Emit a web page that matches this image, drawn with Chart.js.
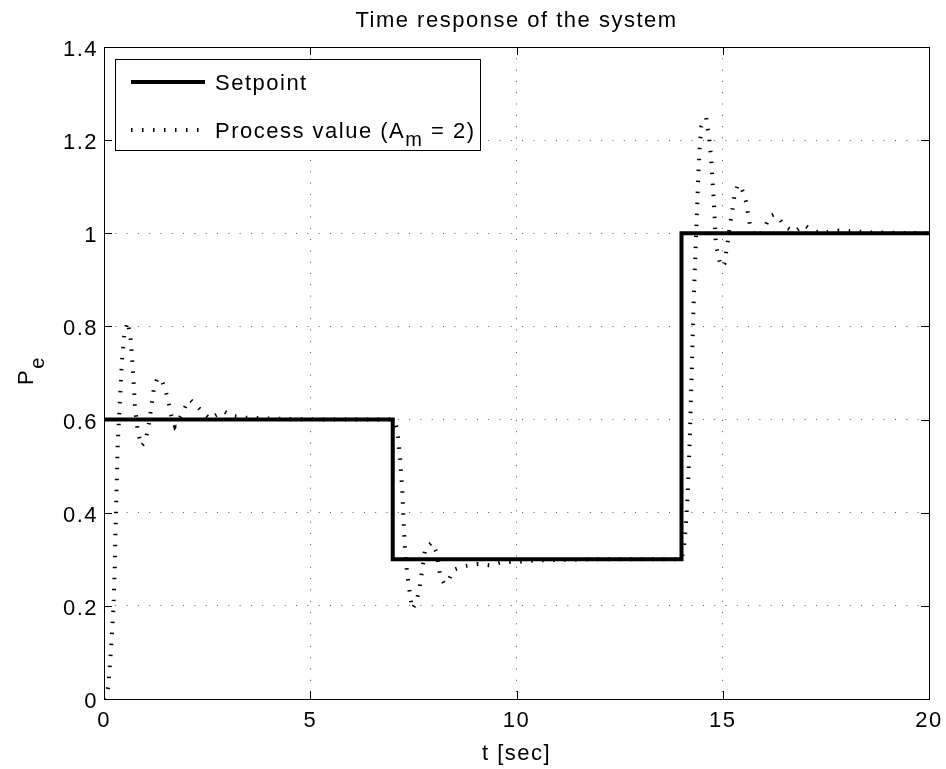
<!DOCTYPE html>
<html>
<head>
<meta charset="utf-8">
<script src="https://cdn.jsdelivr.net/npm/chart.js@4.4.0/dist/chart.umd.min.js"></script>
<style>
  html, body { margin: 0; padding: 0; background: #fff; }
  canvas { display: block; }
</style>
</head>
<body>
<canvas id="chart" width="946" height="769"></canvas>
<script>
// setpoint: steps at t = 7 and t = 14
const setpointTime = [0, 7, 7, 14, 14, 20];
const setpointValue = [0.6, 0.6, 0.3, 0.3, 1, 1];

// process value as [t, value]
const pvStep1 = [
  [0, 0], [0.05, 0.005], [0.10, 0.025], [0.15, 0.08], [0.20, 0.15], [0.23, 0.20],
  [0.26, 0.28], [0.29, 0.40], [0.33, 0.54], [0.38, 0.63], [0.43, 0.72], [0.49, 0.78],
  [0.57, 0.81], [0.64, 0.78], [0.70, 0.71], [0.75, 0.63], [0.81, 0.58], [0.90, 0.543],
  [0.98, 0.55], [1.06, 0.575], [1.14, 0.622], [1.21, 0.668], [1.30, 0.69], [1.42, 0.68],
  [1.50, 0.66], [1.57, 0.635], [1.63, 0.61], [1.72, 0.586], [1.86, 0.607], [1.98, 0.629],
  [2.08, 0.643], [2.27, 0.627], [2.47, 0.609], [2.58, 0.601], [2.66, 0.607], [2.90, 0.618],
  [3.10, 0.608], [3.40, 0.604], [3.80, 0.603], [4.50, 0.601], [5.50, 0.6], [7.00, 0.6]
];
const pvStep2 = [
  [7.06, 0.592], [7.11, 0.579], [7.18, 0.515], [7.23, 0.45], [7.26, 0.386], [7.30, 0.315],
  [7.35, 0.268], [7.40, 0.236], [7.47, 0.193], [7.55, 0.204], [7.63, 0.229], [7.67, 0.25],
  [7.71, 0.275], [7.79, 0.324], [7.95, 0.336], [8.07, 0.313], [8.11, 0.289], [8.15, 0.264],
  [8.25, 0.247], [8.35, 0.254], [8.47, 0.277], [8.71, 0.285], [9.07, 0.29], [9.36, 0.287],
  [9.65, 0.294], [9.96, 0.294], [10.57, 0.298], [12.0, 0.3], [14.0, 0.3]
];
const pvStep3 = [
  [14.05, 0.32], [14.10, 0.365], [14.15, 0.44], [14.20, 0.557], [14.25, 0.708], [14.29, 0.836],
  [14.32, 0.915], [14.36, 1.01], [14.40, 1.108], [14.44, 1.183], [14.48, 1.229], [14.60, 1.248],
  [14.64, 1.222], [14.68, 1.197], [14.72, 1.158], [14.76, 1.10], [14.78, 1.074], [14.80, 1.04],
  [14.83, 0.98], [14.88, 0.954], [14.96, 0.928], [15.04, 0.935], [15.08, 0.958], [15.12, 0.98],
  [15.16, 1.008], [15.20, 1.031], [15.24, 1.055], [15.28, 1.078], [15.36, 1.104], [15.43, 1.102],
  [15.49, 1.089], [15.57, 1.066], [15.61, 1.042], [15.66, 1.018], [15.74, 1.001], [15.89, 0.993],
  [16.03, 1.014], [16.13, 1.036], [16.23, 1.04], [16.33, 1.036], [16.52, 1.014], [16.73, 1.003],
  [16.98, 1.018], [17.10, 1.01], [17.34, 1.001], [17.82, 1.006], [18.55, 1.002], [20.0, 1.0]
];

const xTicks = [0, 5, 10, 15, 20];
const yTicks = [0, 0.2, 0.4, 0.6, 0.8, 1, 1.2, 1.4];
const yTickLabels = ['0', '0.2', '0.4', '0.6', '0.8', '1', '1.2', '1.4'];

const FONT = "'Liberation Sans', Arial, sans-serif";
const SPACING = '1.5px';
const PV_DASH = [1.5, 9.5];
const GRID_DASH = [1, 10.3];
const TICK = 8;

Chart.defaults.font.family = FONT;
Chart.defaults.font.size = 22;
Chart.defaults.color = '#000';

const setpointPoints = setpointTime.map((t, i) => ({ x: t, y: setpointValue[i] }));
const processPoints = pvStep1.concat(pvStep2, pvStep3).map(p => ({ x: p[0], y: p[1] }));

// matlab-ish decorations: box, inward ticks, legend, titles
const axesDecor = {
  id: 'axesDecor',
  beforeDraw(chart) {
    chart.ctx.letterSpacing = SPACING;
  },
  afterDraw(chart) {
    const { ctx, chartArea: a, scales: { x, y } } = chart;
    ctx.save();
    ctx.letterSpacing = SPACING;
    ctx.strokeStyle = '#000';
    ctx.fillStyle = '#000';
    ctx.lineWidth = 1;
    ctx.setLineDash([]);

    ctx.beginPath();
    xTicks.forEach(v => {
      const px = Math.round(x.getPixelForValue(v)) + 0.5;
      ctx.moveTo(px, a.bottom); ctx.lineTo(px, a.bottom - TICK);
      ctx.moveTo(px, a.top); ctx.lineTo(px, a.top + TICK);
    });
    yTicks.forEach(v => {
      const py = Math.round(y.getPixelForValue(v)) + 0.5;
      ctx.moveTo(a.left, py); ctx.lineTo(a.left + TICK, py);
      ctx.moveTo(a.right, py); ctx.lineTo(a.right - TICK, py);
    });
    ctx.stroke();
    ctx.strokeRect(a.left + 0.5, a.top + 0.5, a.right - a.left, a.bottom - a.top);

    // legend
    const lx = 115.5, ly = 59.5, lw = 365, lh = 91;
    ctx.fillStyle = '#fff';
    ctx.fillRect(lx, ly, lw, lh);
    ctx.strokeRect(lx, ly, lw, lh);
    ctx.lineWidth = 4;
    ctx.beginPath(); ctx.moveTo(131, 82); ctx.lineTo(205, 82); ctx.stroke();
    ctx.setLineDash(PV_DASH);
    ctx.beginPath(); ctx.moveTo(131, 130); ctx.lineTo(205, 130); ctx.stroke();
    ctx.setLineDash([]);

    ctx.fillStyle = '#000';
    ctx.textAlign = 'left';
    ctx.textBaseline = 'alphabetic';
    ctx.font = `22px ${FONT}`;
    ctx.fillText('Setpoint', 215, 90);
    let tx = 215;
    ctx.fillText('Process value (A', tx, 138);
    tx += ctx.measureText('Process value (A').width;
    ctx.font = `20px ${FONT}`;
    ctx.fillText('m', tx, 146);
    tx += ctx.measureText('m').width;
    ctx.font = `22px ${FONT}`;
    ctx.fillText(' = 2)', tx, 138);

    // titles
    const cx = (a.left + a.right) / 2;
    ctx.textAlign = 'center';
    ctx.fillText('Time response of the system', cx, 27);
    ctx.fillText('t [sec]', cx, 760);

    ctx.translate(33, 385);
    ctx.rotate(-Math.PI / 2);
    ctx.textAlign = 'left';
    ctx.fillText('P', 0, 0);
    const pw = ctx.measureText('P').width;
    ctx.font = `20px ${FONT}`;
    ctx.fillText('e', pw, 11);
    ctx.restore();
  }
};

new Chart(document.getElementById('chart'), {
  type: 'line',
  data: {
    datasets: [
      {
        label: 'Process value (A_m = 2)',
        data: processPoints,
        borderColor: '#000',
        borderWidth: 4,
        borderDash: PV_DASH,
        borderCapStyle: 'butt',
        pointRadius: 0,
        tension: 0,
        order: 0
      },
      {
        label: 'Setpoint',
        data: setpointPoints,
        borderColor: '#000',
        borderWidth: 4,
        borderJoinStyle: 'miter',
        pointRadius: 0,
        tension: 0,
        order: 1
      }
    ]
  },
  options: {
    responsive: false,
    animation: false,
    devicePixelRatio: 1,
    layout: { padding: { top: 47, right: 17, left: 0, bottom: 0 } },
    plugins: {
      legend: { display: false },
      title: { display: false },
      tooltip: { enabled: false }
    },
    scales: {
      x: {
        type: 'linear',
        min: 0,
        max: 20,
        afterBuildTicks: s => { s.ticks = xTicks.map(v => ({ value: v })); },
        afterFit: s => { s.height = 70; s.paddingLeft = 0; s.paddingRight = 0; },
        ticks: { padding: 9, maxRotation: 0, autoSkip: false },
        grid: { color: '#555', lineWidth: 1, drawTicks: false },
        border: { display: false, dash: GRID_DASH }
      },
      y: {
        type: 'linear',
        min: 0,
        max: 1.4,
        afterBuildTicks: s => { s.ticks = yTicks.map(v => ({ value: v })); },
        afterFit: s => { s.width = 104; s.paddingTop = 0; s.paddingBottom = 0; },
        ticks: { padding: 6, labelOffset: 3, autoSkip: false, callback: (v, i) => yTickLabels[i] },
        grid: { color: '#555', lineWidth: 1, drawTicks: false },
        border: { display: false, dash: GRID_DASH }
      }
    }
  },
  plugins: [axesDecor]
});
</script>
</body>
</html>
